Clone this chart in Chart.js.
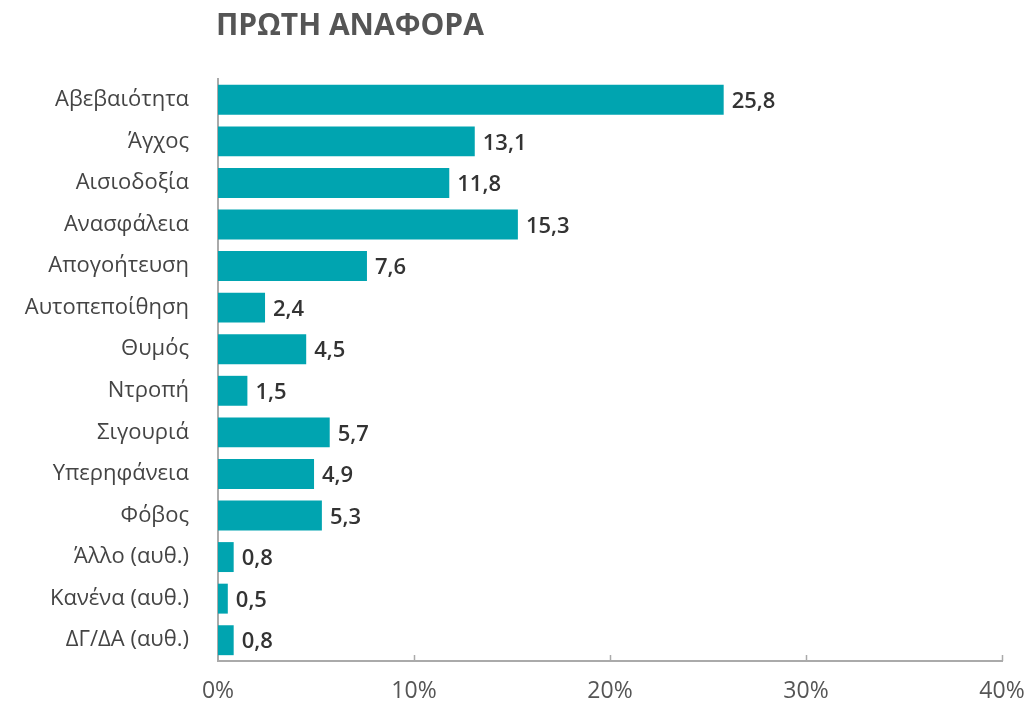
<!DOCTYPE html>
<html>
<head>
<meta charset="utf-8">
<script src="https://cdn.jsdelivr.net/npm/chart.js@4"></script>
<style>
html,body{margin:0;padding:0;background:#fff;}
canvas{display:block;}
</style>
</head>
<body>
<canvas id="c" width="1031" height="707"></canvas>
<script>
const titleText = 'ΠΡΩΤΗ ΑΝΑΦΟΡΑ';
const categories = ['Αβεβαιότητα','Άγχος','Αισιοδοξία','Ανασφάλεια','Απογοήτευση','Αυτοπεποίθηση','Θυμός','Ντροπή','Σιγουριά','Υπερηφάνεια','Φόβος','Άλλο (αυθ.)','Κανένα (αυθ.)','ΔΓ/ΔΑ (αυθ.)'];
const values = [25.8,13.1,11.8,15.3,7.6,2.4,4.5,1.5,5.7,4.9,5.3,0.8,0.5,0.8];
const xTicks = [0,10,20,30,40];

const FONT = '"Open Sans", "Noto Sans", sans-serif';

const extras = {
  id: 'extras',
  afterDraw(chart) {
    const ctx = chart.ctx;
    const area = chart.chartArea;
    ctx.save();
    ctx.fillStyle = '#555555';
    ctx.font = '700 30px ' + FONT;
    ctx.textBaseline = 'middle';
    ctx.textAlign = 'left';
    ctx.fillText(titleText, area.left - 2, 26);
    const xs = chart.scales.x;
    ctx.strokeStyle = '#aaaaaa';
    ctx.lineWidth = 1.5;
    xTicks.forEach(v => {
      if (v === 0) return;
      const px = Math.round(xs.getPixelForValue(v)) + 0.5;
      ctx.beginPath();
      ctx.moveTo(px, area.bottom);
      ctx.lineTo(px, area.bottom - 6);
      ctx.stroke();
    });
    const meta = chart.getDatasetMeta(0);
    ctx.fillStyle = '#333333';
    ctx.font = '600 22px ' + FONT;
    ctx.textAlign = 'left';
    ctx.textBaseline = 'middle';
    meta.data.forEach((bar, i) => {
      const txt = values[i].toFixed(1).replace('.', ',');
      ctx.fillText(txt, bar.x + 8, bar.y + 2);
    });
    ctx.restore();
  }
};

new Chart(document.getElementById('c'), {
  type: 'bar',
  data: {
    labels: categories,
    datasets: [{
      data: values,
      backgroundColor: '#00A4B0',
      borderWidth: 0,
      barPercentage: 0.72,
      categoryPercentage: 1.0
    }]
  },
  options: {
    indexAxis: 'y',
    responsive: false,
    animation: false,
    devicePixelRatio: 1,
    layout: { padding: { top: 79, right: 29, left: 0, bottom: 0 } },
    plugins: { legend: { display: false }, tooltip: { enabled: false }, title: { display: false } },
    scales: {
      x: {
        min: 0, max: 40,
        afterBuildTicks(scale) { scale.ticks = xTicks.map(v => ({ value: v })); },
        afterFit(scale) { scale.height = 46; scale.paddingRight = 0; scale.paddingLeft = 0; },
        grid: { display: false, drawTicks: false },
        border: { display: true, color: '#aaaaaa', width: 2 },
        ticks: {
          padding: 17,
          color: '#555555',
          font: { family: FONT, size: 23, weight: '400' },
          callback: v => v + '%'
        }
      },
      y: {
        afterFit(scale) { scale.width = 218; },
        grid: { display: false, drawTicks: false },
        border: { display: true, color: '#aaaaaa', width: 2 },
        ticks: {
          padding: 29,
          color: '#444444',
          font: { family: FONT, size: 22, weight: '400' }
        }
      }
    }
  },
  plugins: [extras]
});
</script>
</body>
</html>
